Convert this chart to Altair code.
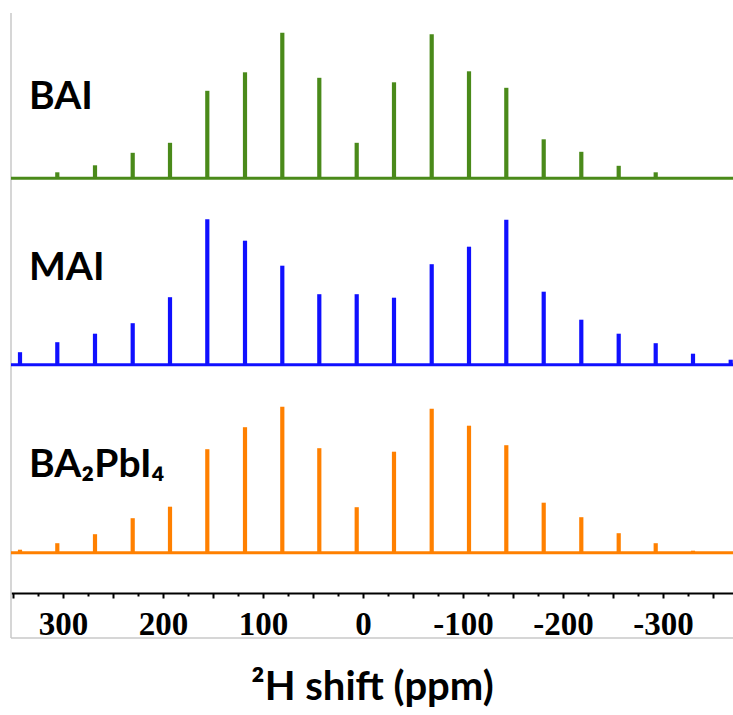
import altair as alt
import pandas as pd

# ---- data ----
shift_ppm = [343, 305.7, 268, 230.3, 193, 155.7, 118, 80.7, 43.7, 6.3,
             -31, -68.7, -106, -143.3, -180.7, -218.3, -255.7, -292.7, -330, -367.7]
bai_int = [0, 6, 13, 25.5, 35.5, 87.5, 106, 145.5, 100.5, 35.5,
           96, 144, 107, 90.5, 39, 26.5, 12.5, 6, 0, 0]
mai_int = [12.5, 22.5, 31, 41.5, 67.5, 145.5, 124, 99, 70.5, 70.5,
           67, 100.5, 118, 145, 73, 45, 31, 21.5, 11, 5]
ba2pbi4_int = [3, 9.5, 18.5, 34.5, 46, 103.5, 125.5, 146, 104.5, 45.5,
               101, 144, 127, 107.5, 50, 35.5, 19.5, 9.5, 2, 0]
samples = ["BAI", "MAI", "BA₂PbI₄"]
colors = ["#4a8a1a", "#1010ff", "#ff8000"]
tick_values = [350, 325, 300, 275, 250, 225, 200, 175, 150, 125, 100, 75, 50, 25, 0,
               -25, -50, -75, -100, -125, -150, -175, -200, -225, -250, -275,
               -300, -325, -350]

# ---- layout (stacking offsets of each trace) ----
W, H = 722, 580
offsets = {"BAI": 414.7, "MAI": 228.3, "BA₂PbI₄": 40.3}

rows = []
for name, vals in zip(samples, [bai_int, mai_int, ba2pbi4_int]):
    for p, v in zip(shift_ppm, vals):
        if v > 0:
            rows.append({"sample": name, "ppm": p, "base": offsets[name],
                         "top": offsets[name] + v})
peaks_df = pd.DataFrame(rows)
base_df = pd.DataFrame({"sample": samples, "base": [offsets[s] for s in samples]})

xs = alt.Scale(domain=[352, -370], nice=False, zero=False)
ys = alt.Scale(domain=[0, H], nice=False, zero=False)
col = alt.Color("sample:N", scale=alt.Scale(domain=samples, range=colors), legend=None)

x_axis = alt.Axis(
    values=tick_values,
    title="²H shift (ppm)",
    labelExpr="datum.value % 100 === 0 ? '' + datum.value : ''",
    labelFont="Liberation Serif", labelFontSize=33, labelFontWeight="bold",
    labelColor="black", labelPadding=10, labelOverlap=False, labelFlush=False,
    tickSize={"condition": {"test": "datum.value % 50 === 0", "value": 5}, "value": 3},
    tickColor="black", tickWidth=2, domainColor="black", domainWidth=2, grid=False,
    titleFont="Lato", titleFontSize=40, titleFontWeight="bold", titleColor="black",
    titlePadding=26,
)

baseline = alt.Chart(base_df).mark_rule(strokeWidth=3).encode(
    x=alt.value(0), x2=alt.value(W),
    y=alt.Y("base:Q", scale=ys, axis=None),
    color=col,
)

peaks = alt.Chart(peaks_df).mark_rule(strokeWidth=4.2).encode(
    x=alt.X("ppm:Q", scale=xs, axis=x_axis),
    y=alt.Y("base:Q", scale=ys, axis=None),
    y2="top:Q",
    color=col,
)

lab_df = pd.DataFrame({"name": samples, "py": [96, 267, 464]})
labels = alt.Chart(lab_df).mark_text(
    font="Lato", fontSize=39, fontWeight="bold", color="black",
    align="left", baseline="alphabetic"
).encode(text="name:N", x=alt.value(18), y=alt.Y("py:Q", scale=None))

one = alt.Data(values=[{}])
frame_left = alt.Chart(one).mark_rule(color="#c8c8c8", strokeWidth=1.5).encode(
    x=alt.value(0), y=alt.value(0), y2=alt.value(625))
frame_bottom = alt.Chart(one).mark_rule(color="#c8c8c8", strokeWidth=1.5).encode(
    x=alt.value(0), x2=alt.value(W), y=alt.value(625))

chart = alt.layer(frame_left, frame_bottom, baseline, peaks, labels).properties(
    width=W, height=H,
    autosize=alt.AutoSizeParams(type="none"),
    padding={"left": 11, "top": 13, "right": 0, "bottom": 122},
    background="white",
).configure_view(stroke=None)

chart.save("out.html", embed_options={"renderer": "svg", "actions": False})
